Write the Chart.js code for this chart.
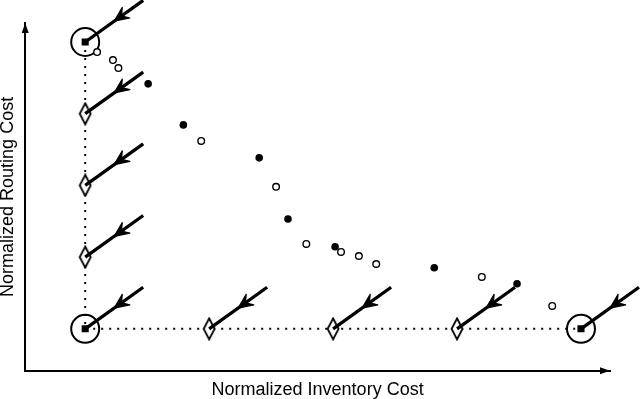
<!DOCTYPE html>
<html>
<head>
<meta charset="utf-8">
<script src="https://cdn.jsdelivr.net/npm/chart.js@4"></script>
<style>
  body { margin: 0; background: #fff; }
</style>
</head>
<body>
<canvas id="c" width="640" height="399"></canvas>
<script>
// solution points (normalized inventory cost, normalized routing cost)
const filledX = [0.127, 0.198, 0.351, 0.409, 0.504, 0.704, 0.871];
const filledY = [0.854, 0.711, 0.596, 0.383, 0.286, 0.213, 0.157];
const openX = [0.024, 0.056, 0.067, 0.234, 0.385, 0.446, 0.516, 0.552, 0.587, 0.800, 0.942];
const openY = [0.965, 0.937, 0.909, 0.655, 0.495, 0.296, 0.268, 0.254, 0.226, 0.181, 0.080];

// extreme points (circle + square) and weighted points (diamonds)
const extremeX = [0, 0, 1];
const extremeY = [1, 0, 0];
const diamondX = [0, 0, 0, 0.25, 0.5, 0.75];
const diamondY = [0.75, 0.5, 0.25, 0, 0, 0];

// search direction arrow, same for every marker
const arrowDx = 0.117;
const arrowDy = 0.145;

const xTitle = 'Normalized Inventory Cost';
const yTitle = 'Normalized Routing Cost';

Chart.defaults.font.family = '"Liberation Sans", Arial, sans-serif';
Chart.defaults.color = '#000';

const pts = (xs, ys) => xs.map((x, i) => ({ x: x, y: ys[i] }));

// tall diamond marker
const diamond = document.createElement('canvas');
diamond.width = 14;
diamond.height = 24;
const dctx = diamond.getContext('2d');
dctx.beginPath();
dctx.moveTo(7, 1.5);
dctx.lineTo(12.5, 12);
dctx.lineTo(7, 22.5);
dctx.lineTo(1.5, 12);
dctx.closePath();
dctx.fillStyle = '#fff';
dctx.fill();
dctx.lineWidth = 1.8;
dctx.strokeStyle = '#000';
dctx.stroke();

const datasets = [];

// dotted lines joining the weighted points
datasets.push({
  type: 'line', data: pts([0, 0], [1, 0]), borderColor: '#000', borderWidth: 2,
  borderDash: [2, 6], pointRadius: 0, order: 5
});
datasets.push({
  type: 'line', data: pts([0, 1], [0, 0]), borderColor: '#000', borderWidth: 2,
  borderDash: [2, 6], pointRadius: 0, order: 5
});

datasets.push({
  data: pts(diamondX, diamondY), pointStyle: diamond, order: 4
});
datasets.push({
  data: pts(extremeX, extremeY), pointStyle: 'circle', pointRadius: 14,
  backgroundColor: 'rgba(0,0,0,0)', borderColor: '#000', borderWidth: 2, order: 4
});
datasets.push({
  data: pts(extremeX, extremeY), pointStyle: 'rect', pointRadius: 5,
  backgroundColor: '#000', borderColor: '#000', borderWidth: 0, order: 3
});

// arrows
const allX = extremeX.concat(diamondX);
const allY = extremeY.concat(diamondY);
allX.forEach((x, i) => {
  datasets.push({
    type: 'line', arrow: true,
    data: [{ x: x + arrowDx, y: allY[i] + arrowDy }, { x: x, y: allY[i] }],
    borderColor: '#000', borderWidth: 3.3, pointRadius: 0, clip: false, order: 2
  });
});

datasets.push({
  data: pts(filledX, filledY), pointStyle: 'circle', pointRadius: 3.8,
  backgroundColor: '#000', borderColor: '#000', borderWidth: 0, order: 1
});
datasets.push({
  data: pts(openX, openY), pointStyle: 'circle', pointRadius: 3.3,
  backgroundColor: '#fff', borderColor: '#000', borderWidth: 1.4, order: 1
});

const arrowHeads = {
  id: 'arrowHeads',
  afterDatasetsDraw(chart) {
    const ctx = chart.ctx;
    ctx.save();
    ctx.strokeStyle = '#000';
    ctx.fillStyle = '#000';
    ctx.lineJoin = 'round';
    chart.data.datasets.forEach((ds, i) => {
      if (!ds.arrow) return;
      const p = chart.getDatasetMeta(i).data;
      const ux = p[1].x - p[0].x, uy = p[1].y - p[0].y;
      const tx = p[0].x + ux * 0.5, ty = p[0].y + uy * 0.5;
      const a = Math.atan2(-uy, -ux);
      // concave barbed head pointing at the marker
      ctx.beginPath();
      ctx.moveTo(tx, ty);
      ctx.lineTo(tx + 16 * Math.cos(a + 0.42), ty + 16 * Math.sin(a + 0.42));
      ctx.lineTo(tx + 9 * Math.cos(a), ty + 9 * Math.sin(a));
      ctx.lineTo(tx + 16 * Math.cos(a - 0.42), ty + 16 * Math.sin(a - 0.42));
      ctx.closePath();
      ctx.fill();
      ctx.lineWidth = 1.2;
      ctx.stroke();
    });
    // axis arrow tips
    const ca = chart.chartArea;
    ctx.beginPath();
    ctx.moveTo(ca.right, ca.bottom);
    ctx.lineTo(ca.right - 10, ca.bottom - 3.5);
    ctx.lineTo(ca.right - 10, ca.bottom + 3.5);
    ctx.closePath();
    ctx.fill();
    ctx.beginPath();
    ctx.moveTo(ca.left, ca.top);
    ctx.lineTo(ca.left - 3.5, ca.top + 10);
    ctx.lineTo(ca.left + 3.5, ca.top + 10);
    ctx.closePath();
    ctx.fill();
    ctx.restore();
  }
};

new Chart(document.getElementById('c'), {
  type: 'scatter',
  data: { datasets: datasets },
  options: {
    responsive: false,
    animation: false,
    layout: { padding: { top: 23, right: 30, left: 0, bottom: 0 } },
    plugins: { legend: { display: false }, tooltip: { enabled: false } },
    scales: {
      x: {
        type: 'linear', min: -0.121, max: 1.0585,
        grid: { display: false, drawTicks: false },
        ticks: { display: false },
        border: { display: true, color: '#000', width: 2 },
        title: {
          display: true, text: xTitle,
          font: { size: 18, lineHeight: 0.9 },
          padding: { top: 11, bottom: 1 }
        }
      },
      y: {
        type: 'linear', min: -0.1463, max: 1.0662,
        grid: { display: false, drawTicks: false },
        ticks: { display: false },
        border: { display: true, color: '#000', width: 2 },
        title: {
          display: true, text: yTitle,
          font: { size: 18, lineHeight: 0.9 },
          padding: { top: 0, bottom: 9 }
        }
      }
    }
  },
  plugins: [arrowHeads]
});
</script>
</body>
</html>
